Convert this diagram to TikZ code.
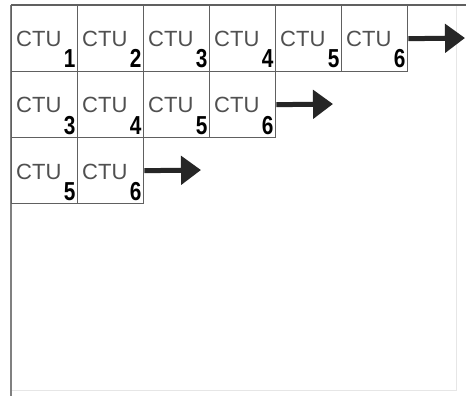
\documentclass[tikz,border=0pt]{standalone}
\usepackage{fontspec}
\setmainfont{Liberation Sans}
\usetikzlibrary{arrows.meta}
\definecolor{gridgray}{HTML}{606060}
\definecolor{textgray}{HTML}{505050}
\definecolor{faintgray}{HTML}{E6E6E6}
\begin{document}
\begin{tikzpicture}[x=1pt,y=-1pt,
  cell/.style={draw=gridgray, line width=1.4pt, minimum size=66pt, inner sep=0pt, anchor=north west},
  ctu/.style={anchor=base west, inner sep=0pt, text=textgray, font=\fontsize{22}{22}\selectfont},
  num/.style={anchor=base east, inner sep=0pt, text=black, font=\fontsize{26}{26}\selectfont\bfseries, xscale=0.8},
  bigarrow/.style={draw=black!85, line width=5pt, -{Triangle[length=20pt,width=28pt]}, shorten >=0pt}]
\fill[white] (0,0) rectangle (466,396);
\useasboundingbox (0,0) rectangle (466,396);
% outer frame
\draw[faintgray, line width=1pt] (456,5) -- (456,390) -- (11,390);
\draw[gridgray, line width=1.4pt] (11,5) -- (466,5);
\draw[gridgray!80, line width=2.8pt] (11,5) -- (11,396);
% cells
\foreach \r/\y/\n/\s in {1/5/6/1, 2/71/4/3, 3/137/2/5}{
  \foreach \c in {1,...,\n}{
    \pgfmathtruncatemacro{\lab}{\s+\c-1}
    \pgfmathsetmacro{\xx}{11+66*(\c-1)}
    \node[cell] (r\r c\c) at (\xx,\y) {};
    \node[ctu] (t\r c\c) at (\xx+5,\y+42) {CTU};
    \node[num] (n\r c\c) at (\xx+64.5,\y+63) {\lab};
  }
}
% arrows
\coordinate (e1) at (465,38);
\coordinate (e2) at (333,104);
\coordinate (e3) at (201,170);
\draw[bigarrow] (r1c6.east) -- (e1);
\draw[bigarrow] (r2c4.east) -- (e2);
\draw[bigarrow] (r3c2.east) -- (e3);
\end{tikzpicture}
\end{document}
